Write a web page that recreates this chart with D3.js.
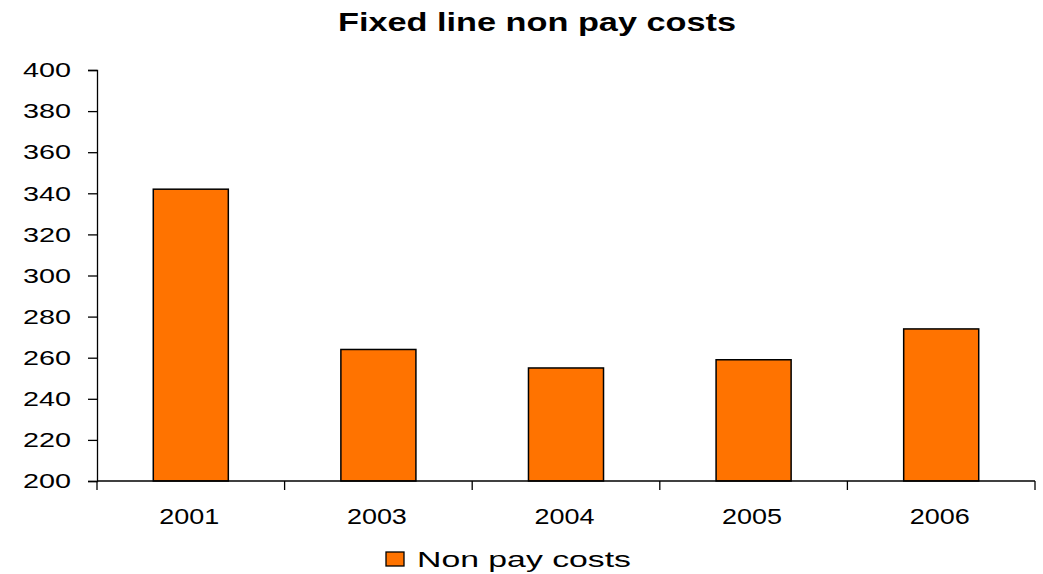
<!DOCTYPE html>
<html>
<head>
<meta charset="utf-8">
<script src="https://cdn.jsdelivr.net/npm/d3@7"></script>
<style>
  html, body { margin: 0; padding: 0; background: #fff; }
  svg { display: block; }
  text { font-family: "Liberation Sans", Arial, sans-serif; fill: #000; }
</style>
</head>
<body>
<script>
const title = "Fixed line non pay costs";
const categories = ["2001", "2003", "2004", "2005", "2006"];
const values = [342, 264, 255, 259, 274];
const seriesName = "Non pay costs";
const yTicks = [200, 220, 240, 260, 280, 300, 320, 340, 360, 380, 400];

const W = 1043, H = 574;
const svg = d3.select("body").append("svg").attr("width", W).attr("height", H);

const x = d3.scaleBand().domain(categories).range([97, 1035]).paddingInner(0.6).paddingOuter(0.3);
const y = d3.scaleLinear().domain([200, 400]).range([481, 70]);

const orange = "#FF7300";

// Title
svg.append("text")
  .attr("x", 338).attr("y", 31)
  .attr("font-size", 25).attr("font-weight", "bold")
  .attr("textLength", 398).attr("lengthAdjust", "spacingAndGlyphs")
  .text(title);

// Bars
svg.append("g").selectAll("rect").data(values).join("rect")
  .attr("x", (d, i) => x(categories[i]))
  .attr("y", d => y(d))
  .attr("width", x.bandwidth())
  .attr("height", d => y(200) - y(d))
  .attr("fill", orange)
  .attr("stroke", "#000")
  .attr("stroke-width", 1.5);

// Y axis
const yAxis = svg.append("g").attr("transform", "translate(97,0)")
  .call(d3.axisLeft(y).tickValues(yTicks).tickSize(9).tickPadding(17).tickFormat(d3.format("d")));
yAxis.select(".domain").attr("stroke", "#000").attr("stroke-width", 1.3);
yAxis.selectAll(".tick line").attr("stroke", "#000").attr("stroke-width", 1.3);
yAxis.selectAll(".tick text")
  .attr("font-size", 21)
  .attr("font-family", "Liberation Sans, Arial, sans-serif")
  .attr("fill", "#000")
  .attr("textLength", 48).attr("lengthAdjust", "spacingAndGlyphs");

// X axis line
const x0 = x.range()[0], x1 = x.range()[1];
svg.append("line").attr("x1", x0).attr("x2", x1).attr("y1", y(200)).attr("y2", y(200))
  .attr("stroke", "#000").attr("stroke-width", 1.3);
// X tick marks at category boundaries
const boundaries = categories.map(c => x(c) + x.bandwidth() / 2 - x.step() / 2).concat([x1]);
svg.append("g").selectAll("line").data(boundaries).join("line")
  .attr("x1", d => d).attr("x2", d => d)
  .attr("y1", y(200)).attr("y2", y(200) + 9)
  .attr("stroke", "#000").attr("stroke-width", 1.3);
// X labels
svg.append("g").selectAll("text").data(categories).join("text")
  .attr("x", d => x(d) + x.bandwidth() / 2 - 1.5)
  .attr("y", 524)
  .attr("text-anchor", "middle")
  .attr("font-size", 21.5)
  .attr("textLength", 60).attr("lengthAdjust", "spacingAndGlyphs")
  .text(d => d);

// Legend
svg.append("rect").attr("x", 386).attr("y", 552).attr("width", 18).attr("height", 14)
  .attr("fill", orange).attr("stroke", "#000").attr("stroke-width", 1.3);
svg.append("text").attr("x", 417).attr("y", 567)
  .attr("font-size", 22.5)
  .attr("textLength", 214).attr("lengthAdjust", "spacingAndGlyphs")
  .text(seriesName);
</script>
</body>
</html>
